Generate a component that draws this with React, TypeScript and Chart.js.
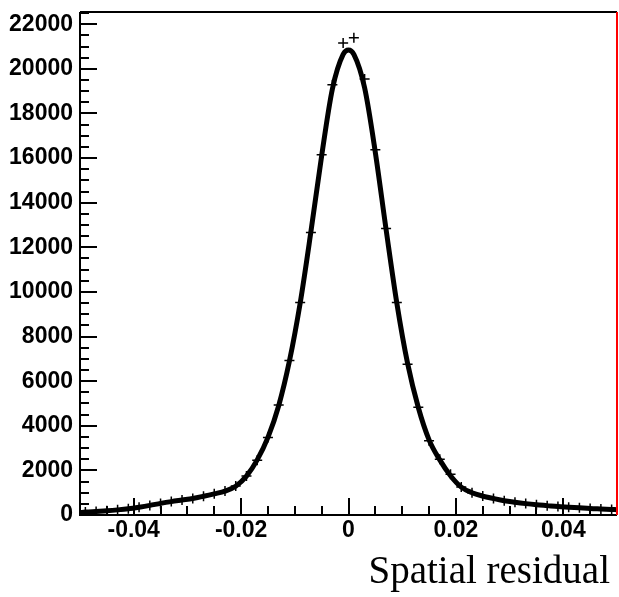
import { useEffect, useRef } from 'react';
import { Chart, registerables } from 'chart.js';

Chart.register(...registerables);

// Histogram bin centres (bin width 0.002)
const binCenters = [
  -0.049, -0.047, -0.045, -0.043, -0.041, -0.039, -0.037, -0.035, -0.033, -0.031,
  -0.029, -0.027, -0.025, -0.023, -0.021, -0.019, -0.017, -0.015, -0.013, -0.011,
  -0.009, -0.007, -0.005, -0.003, -0.001, 0.001, 0.003, 0.005, 0.007, 0.009,
  0.011, 0.013, 0.015, 0.017, 0.019, 0.021, 0.023, 0.025, 0.027, 0.029,
  0.031, 0.033, 0.035, 0.037, 0.039, 0.041, 0.043, 0.045, 0.047, 0.049,
];

// Histogram entries per bin
const counts = [
  130, 160, 190, 230, 280, 350, 430, 520, 600, 670,
  740, 840, 950, 1080, 1300, 1750, 2450, 3470, 4930, 6930,
  9530, 12660, 16150, 19290, 21160, 21390, 19550, 16380, 12840, 9530,
  6760, 4830, 3330, 2500, 1830, 1250, 1000, 850, 740, 640,
  570, 510, 460, 420, 380, 350, 320, 290, 270, 250,
];

// Fitted curve sample positions and values
const fitX = [
  -0.05, -0.049, -0.047, -0.045, -0.043, -0.041, -0.039, -0.037, -0.035, -0.033, -0.031,
  -0.029, -0.027, -0.025, -0.023, -0.021, -0.019, -0.017, -0.015, -0.013, -0.011,
  -0.009, -0.007, -0.005, -0.003, -0.001, 0, 0.001, 0.003, 0.005, 0.007, 0.009,
  0.011, 0.013, 0.015, 0.017, 0.019, 0.021, 0.023, 0.025, 0.027, 0.029,
  0.031, 0.033, 0.035, 0.037, 0.039, 0.041, 0.043, 0.045, 0.047, 0.049, 0.05,
];
const fitY = [
  110, 130, 160, 190, 230, 280, 350, 430, 520, 600, 670,
  740, 840, 950, 1070, 1290, 1740, 2470, 3480, 4900, 6900,
  9500, 12700, 16100, 19100, 20650, 20850, 20650, 19150, 16250, 12800, 9500,
  6800, 4820, 3370, 2470, 1760, 1250, 1000, 850, 740, 640,
  570, 510, 460, 420, 380, 350, 320, 290, 270, 250, 240,
];

const xTickValues = [-0.04, -0.02, 0, 0.02, 0.04];
const xTickLabels = ['-0.04', '-0.02', '0', '0.02', '0.04'];
const yTickValues = [0, 2000, 4000, 6000, 8000, 10000, 12000, 14000, 16000, 18000, 20000, 22000];
const xRange = [-0.05, 0.05];
const yRange = [0, 22550];
const xMinorStep = 0.005;
const yMinorStep = 500;
const xAxisTitle = 'Spatial residual';

const framePlugin = {
  id: 'rootFrame',
  afterDraw(chart: any) {
    const { ctx, chartArea: a, scales } = chart;
    const xs = scales.x;
    const ys = scales.y;
    ctx.save();
    ctx.strokeStyle = '#000';
    ctx.lineWidth = 2;
    ctx.lineCap = 'butt';
    // x ticks (inside, pointing up)
    const nx = Math.round((xRange[1] - xRange[0]) / xMinorStep);
    for (let i = 1; i < nx; i++) {
      const v = xRange[0] + i * xMinorStep;
      const px = Math.round(xs.getPixelForValue(v));
      const major = xTickValues.some((t) => Math.abs(t - v) < 1e-9);
      const len = major ? 17 : 9;
      ctx.beginPath();
      ctx.moveTo(px, a.bottom);
      ctx.lineTo(px, a.bottom - len);
      ctx.stroke();
    }
    // y ticks (inside, pointing right)
    const ny = Math.floor(yRange[1] / yMinorStep);
    for (let i = 1; i <= ny; i++) {
      const v = i * yMinorStep;
      const py = Math.round(ys.getPixelForValue(v));
      const major = yTickValues.includes(v);
      const len = major ? 17 : 9;
      ctx.beginPath();
      ctx.moveTo(a.left, py);
      ctx.lineTo(a.left + len, py);
      ctx.stroke();
    }
    // frame
    ctx.beginPath();
    ctx.moveTo(a.left, a.top);
    ctx.lineTo(a.right, a.top);
    ctx.moveTo(a.left, a.top);
    ctx.lineTo(a.left, a.bottom);
    ctx.moveTo(a.left - 1, a.bottom);
    ctx.lineTo(a.right, a.bottom);
    ctx.stroke();
    ctx.strokeStyle = '#ff0000';
    ctx.beginPath();
    ctx.moveTo(a.right, a.top);
    ctx.lineTo(a.right, a.bottom);
    ctx.stroke();
    // axis title (ROOT style, right-aligned under the axis)
    ctx.fillStyle = '#000';
    ctx.font = "39px 'Liberation Serif', 'Times New Roman', serif";
    ctx.textAlign = 'right';
    ctx.textBaseline = 'alphabetic';
    ctx.fillText(xAxisTitle, a.right - 7, 583);
    ctx.restore();
  },
};

export default function App() {
  const ref = useRef<HTMLCanvasElement>(null);

  useEffect(() => {
    if (!ref.current) return;
    const tickFont = { family: "'Liberation Sans', Arial, sans-serif", size: 23, weight: 'bold' as const };
    const chart = new Chart(ref.current, {
      type: 'scatter',
      data: {
        datasets: [
          {
            type: 'line',
            data: fitX.map((x, i) => ({ x, y: fitY[i] })),
            borderColor: '#000',
            borderWidth: 5,
            pointRadius: 0,
            cubicInterpolationMode: 'monotone',
            fill: false,
          } as any,
          {
            type: 'scatter',
            data: binCenters.map((x, i) => ({ x, y: counts[i] })),
            pointStyle: 'cross',
            pointRadius: 5,
            borderColor: '#000',
            borderWidth: 1.5,
            backgroundColor: '#000',
          } as any,
        ],
      },
      options: {
        responsive: false,
        animation: false,
        layout: { autoPadding: false, padding: { top: 12, right: 2, left: 0, bottom: 0 } },
        plugins: { legend: { display: false }, tooltip: { enabled: false }, title: { display: false } },
        scales: {
          x: {
            type: 'linear',
            min: xRange[0],
            max: xRange[1],
            grid: { display: false, drawTicks: false, tickLength: 0 },
            border: { display: false },
            afterBuildTicks: (s: any) => {
              s.ticks = xTickValues.map((v) => ({ value: v }));
            },
            afterFit: (s: any) => {
              s.height = 82;
              s.paddingLeft = 0;
              s.paddingRight = 0;
              s.paddingTop = 0;
              s.paddingBottom = 0;
            },
            ticks: {
              color: '#000',
              font: tickFont,
              padding: 2,
              maxRotation: 0,
              autoSkip: false,
              callback: (v: any) => {
                const idx = xTickValues.findIndex((t) => Math.abs(t - Number(v)) < 1e-9);
                return idx >= 0 ? xTickLabels[idx] : '';
              },
            },
          },
          y: {
            type: 'linear',
            min: yRange[0],
            max: yRange[1],
            grid: { display: false, drawTicks: false, tickLength: 0 },
            border: { display: false },
            afterBuildTicks: (s: any) => {
              s.ticks = yTickValues.map((v) => ({ value: v }));
            },
            afterFit: (s: any) => {
              s.width = 80;
              s.paddingLeft = 0;
              s.paddingRight = 0;
              s.paddingTop = 0;
              s.paddingBottom = 0;
            },
            ticks: {
              color: '#000',
              font: tickFont,
              padding: 7,
              autoSkip: false,
              callback: (v: any) => String(v),
            },
          },
        },
      },
      plugins: [framePlugin],
    });
    return () => chart.destroy();
  }, []);

  return (
    <div style={{ position: 'absolute', left: 0, top: 0, width: 619, height: 597, background: '#fff' }}>
      <canvas ref={ref} width={619} height={597} style={{ display: 'block' }} />
    </div>
  );
}
